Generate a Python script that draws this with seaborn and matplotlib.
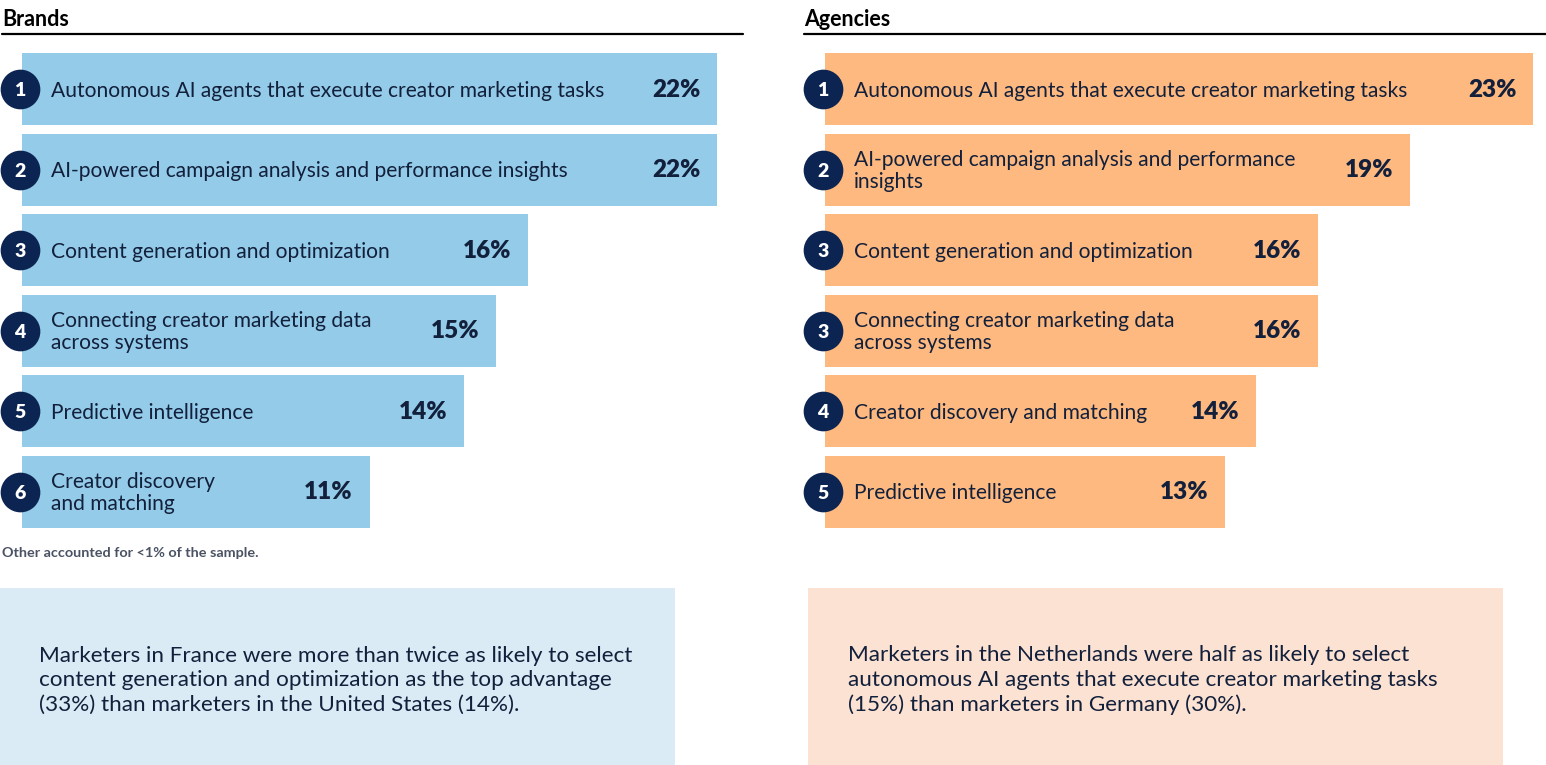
import matplotlib
matplotlib.use('Agg')
import matplotlib.pyplot as plt
from matplotlib.patches import Rectangle
from matplotlib.lines import Line2D
import seaborn as sns
import pandas as pd

# data
brand_labels = ['Autonomous AI agents that execute creator marketing tasks',
                'AI-powered campaign analysis and performance insights',
                'Content generation and optimization',
                'Connecting creator marketing data\nacross systems',
                'Predictive intelligence',
                'Creator discovery\nand matching']
brand_values = [22, 22, 16, 15, 14, 11]
brand_ranks = [1, 2, 3, 4, 5, 6]

agency_labels = ['Autonomous AI agents that execute creator marketing tasks',
                 'AI-powered campaign analysis and performance\ninsights',
                 'Content generation and optimization',
                 'Connecting creator marketing data\nacross systems',
                 'Creator discovery and matching',
                 'Predictive intelligence']
agency_values = [23, 19, 16, 16, 14, 13]
agency_ranks = [1, 2, 3, 3, 4, 5]

footnote = 'Other accounted for <1% of the sample.'
brand_note = ('Marketers in France were more than twice as likely to select\n'
              'content generation and optimization as the top advantage\n'
              '(33%) than marketers in the United States (14%).')
agency_note = ('Marketers in the Netherlands were half as likely to select\n'
               'autonomous AI agents that execute creator marketing tasks\n'
               '(15%) than marketers in Germany (30%).')

sns.set_theme(style='white')
plt.rcParams['font.family'] = ['Lato', 'DejaVu Sans']

W, H = 1546, 765
NAVY = '#0c2451'
TEXT = '#13203b'
fig = plt.figure(figsize=(W / 100, H / 100), dpi=100)


def fx(px):
    return px / W


def fy(py):
    return 1 - py / H


def panel(left_px, right_px, scale, labels, values, ranks, color, title, title_x):
    ax = fig.add_axes([fx(left_px), fy(532), fx(right_px - left_px), (532 - 49) / H])
    df = pd.DataFrame({'item': labels, 'value': values})
    sns.barplot(data=df, x='value', y='item', order=labels, orient='h',
                color=color, saturation=1, width=0.9, errorbar=None,
                linewidth=0, ax=ax)
    ax.set_xlim(0, (right_px - left_px) / scale)
    ax.set_ylim(5.5, -0.5)
    ax.axis('off')
    for i, (lab, val, rk) in enumerate(zip(labels, values, ranks)):
        ax.scatter([-2 / scale], [i], s=760, color=NAVY, clip_on=False, zorder=3)
        ax.text(-2 / scale, i + 0.02, str(rk), color='white', fontsize=14,
                fontweight='heavy', ha='center', va='center', zorder=4)
        ax.annotate(lab, xy=(0, i), xytext=(21, -1), textcoords='offset points',
                    ha='left', va='center', fontsize=15.1, color=TEXT,
                    linespacing=1.1)
        ax.annotate(f'{val}%', xy=(val, i), xytext=(-12, -0.5), textcoords='offset points',
                    ha='right', va='center', fontsize=17.5, fontweight='heavy',
                    color=TEXT)
    fig.text(fx(title_x), fy(19), title, fontsize=15.5, fontweight='bold',
             color='black', ha='left', va='center')
    return ax


panel(22, 743, 31.6, brand_labels, brand_values, brand_ranks, '#93cbe9', 'Brands', 2)
panel(825, 1546, 30.8, agency_labels, agency_values, agency_ranks, '#fdb97f', 'Agencies', 804)

fig.add_artist(Line2D([fx(2), fx(743)], [fy(34), fy(34)], color='black', lw=1.6))
fig.add_artist(Line2D([fx(804), fx(1546)], [fy(34), fy(34)], color='black', lw=1.6))

fig.text(fx(2), fy(553), footnote, fontsize=10.4, fontweight='bold', color='#4a5263',
         ha='left', va='center')

fig.add_artist(Rectangle((fx(0), fy(765)), fx(675), (765 - 588) / H,
                         facecolor='#dbebf6', edgecolor='none'))
fig.add_artist(Rectangle((fx(808), fy(765)), fx(1503 - 808), (765 - 588) / H,
                         facecolor='#fbe2d3', edgecolor='none'))
fig.text(fx(39), fy(680), brand_note, fontsize=16.2, color=TEXT, ha='left',
         va='center', linespacing=1.28)
fig.text(fx(848), fy(680), agency_note, fontsize=16.2, color=TEXT, ha='left',
         va='center', linespacing=1.28)

fig.savefig('out.png', dpi=100)
